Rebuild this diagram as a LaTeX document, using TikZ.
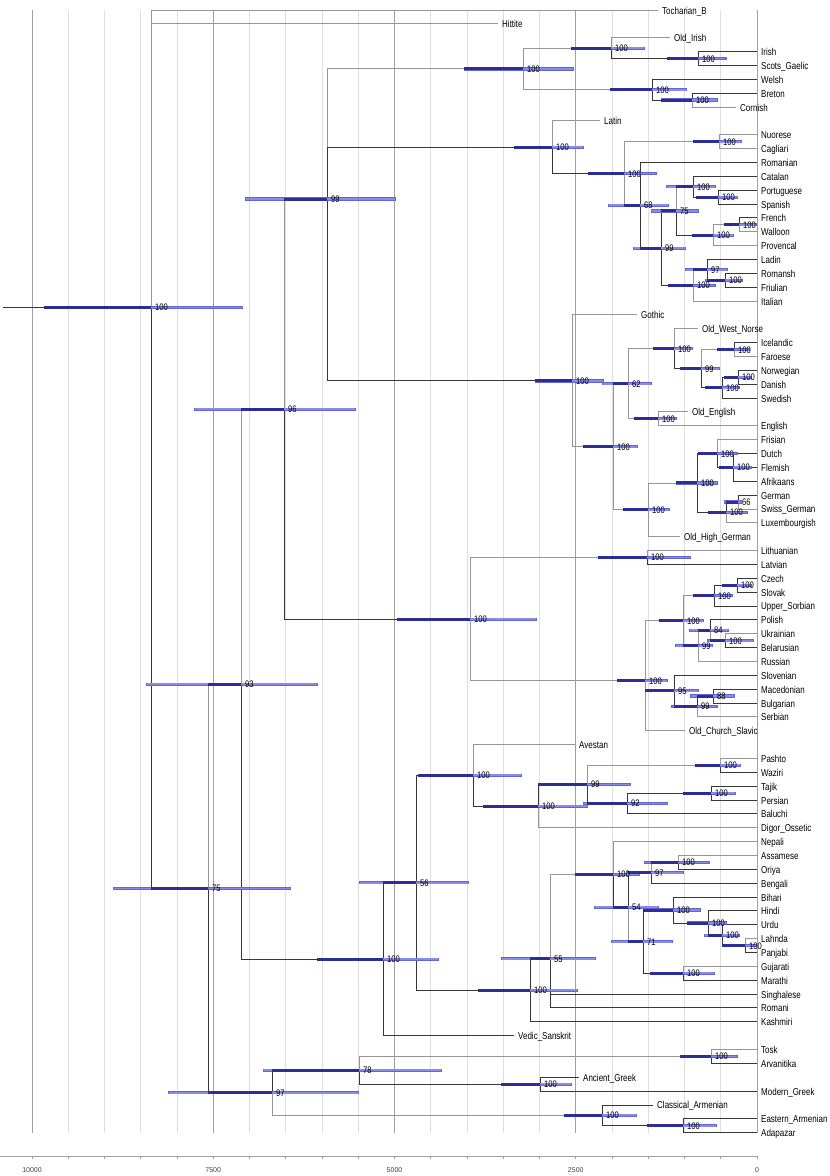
\documentclass[tikz,border=0pt]{standalone}
\usepackage{fontspec}
\setmainfont{Liberation Sans}
\newfontfamily\nar[FakeStretch=0.8]{Liberation Sans}
\definecolor{brg}{RGB}{150,150,150}
\definecolor{brk}{RGB}{55,55,55}
\definecolor{barO}{RGB}{100,102,205}
\definecolor{barL}{RGB}{135,140,235}
\definecolor{barD}{RGB}{45,45,150}
\definecolor{gridmin}{RGB}{222,222,222}
\definecolor{gridmaj}{RGB}{160,160,160}
\tikzset{
  edge/.style={line width=0.9pt},
  barouter/.style={line width=3.2pt, barO},
  barlight/.style={line width=1.8pt, barL},
  bardark/.style={line width=3pt, barD},
  nlab/.style={anchor=west, inner sep=0pt, xshift=4pt, font=\nar\fontsize{9.5}{9.5}\selectfont, text height=7pt, text depth=0pt},
  leaf/.style={anchor=west, inner sep=0pt, xshift=4pt, font=\nar\fontsize{10}{10}\selectfont, text height=8pt, text depth=0pt},
  axlab/.style={font=\fontsize{7}{7}\selectfont, text=black!75, inner sep=0pt},
}
\def\INodes{
n99/327/13.64/n96/245/396/284/99/g,
n96/284/28.8/n93/194/356/241/96/g,
n93/241/48.64/n75/146/318/208/93/g,
n75/208/63.38/root/113/291/151/75/k,
n97s/272/78.125/n75/168/359/208/97/k,
Celt/523/4.25/n99/464/574/464/100/g,
Goid/611/2.75/Celt/571/645/571/100/g,
IS/698/3.5/Goid/667/727/667/100/k,
Bryth/652/5.75/Celt/610/687/610/100/g,
BC/692/6.5/Bryth/661/718/661/100/k,
Ital/552/9.90/n99/514/584/514/100/k,
Rom/624/11.80/Ital/588/657/588/100/k,
Sard/719/9.5/Rom/693/742/693/100/g,
n68/640/14.09/Rom/608/669/624/68/g,
n99it/661/17.1875/n68/633/686/640/99/k,
n75it/676/14.5/n99it/651/699/661/75/k,
Iber/693/12.75/n75it/666/716/676/100/g,
PS/718/13.5/Iber/696/738/696/100/k,
Gallo/713/16.25/n75it/692/734/692/100/k,
FW/739/15.5/Gallo/724/757/724/100/g,
n100it/693/19.875/n99it/668/716/668/100/k,
n97it/707/18.75/n100it/685/728/693/97/g,
RF/725/19.5/n97it/705/743/707/100/k,
Germ/572/26.76/n99/535/604/535/100/k,
NWG/613/31.52/Germ/583/638/583/100/g,
n62/628/26.97/NWG/602/652/613/62/g,
North/674/24.44/n62/653/693/653/100/g,
n99g/701/25.875/North/680/720/680/99/k,
Ins/734/24.5/n99g/717/750/717/100/g,
NDS/722/27.25/n99g/705/740/705/100/k,
ND/738/26.5/NDS/724/752/724/100/k,
Anglo/658/29.5/n62/634/677/634/100/g,
n100wg/648/36.06/NWG/623/670/623/100/g,
WG/697/34.125/n100wg/676/718/676/100/g,
LowG/717/32/WG/698/738/698/100/k,
DFA/733/33/LowG/719/752/719/100/k,
HighG/726/36.25/WG/708/748/708/100/k,
n66/738/35.5/HighG/724/742/726/66/k,
BS/470/43.95/n96/397/537/397/100/k,
Baltic/647/39.5/BS/598/691/598/100/g,
Slavic/645/48.40/BS/617/668/617/100/g,
WE/683/44.06/Slavic/659/704/659/100/g,
West/714/42.25/WE/693/733/693/100/g,
CS/737/41.5/West/722/752/722/100/k,
n99e/698/45.875/WE/675/713/683/99/g,
n84/710/44.75/n99e/689/729/698/84/g,
UB/725/45.5/n84/707/754/710/100/g,
South/674/49.125/Slavic/645/699/645/95/k,
n99s/697/50.25/South/671/718/674/99/k,
n88/713/49.5/n99s/690/735/697/88/k,
n100v/383/68.49/n93/317/439/317/100/k,
n56/416/62.97/n100v/359/469/383/56/k,
Iran/473/55.22/n56/418/522/418/100/k,
IrTwo/538/57.44/Iran/483/588/483/100/k,
n99ir/587/55.875/IrTwo/538/631/538/99/k,
PW/720/54.5/n99ir/695/741/695/100/g,
n92/627/57.25/n99ir/583/668/587/92/k,
TP/711/56.5/n92/683/736/683/100/k,
n100k/530/70.73/n56/478/578/478/100/k,
n55/550/68.46/n100k/501/596/530/55/k,
Core/613/62.37/n55/575/640/575/100/g,
n54/628/64.73/Core/594/659/613/54/k,
n97i/651/62.25/n54/627/684/628/97/k,
AO/678/61.5/n97i/644/710/651/100/g,
n71/643/67.22/n54/611/673/628/71/g,
Hind/673/64.94/n71/643/701/643/100/k,
n708/708/65.875/Hind/687/727/687/100/k,
n722/722/66.75/n708/704/740/708/100/k,
LP/745/67.5/n722/722/757/722/100/k,
GM/683/69.5/n71/650/715/650/100/k,
n78/359/76.5/n97s/263/442/272/78/k,
Alb/711/75.5/n78/680/738/680/100/g,
Grk/540/77.5/n78/501/572/501/100/k,
Arm/602/79.75/n97s/564/637/564/100/g,
EA/683/80.5/Arm/647/717/647/100/k}
\def\Leaves{
0/658/root/g/Tocharian\_B,
1/498/root/g/Hittite,
2/670/Goid/g/Old\_Irish,
3/757/IS/k/Irish,
4/757/IS/k/Scots\_Gaelic,
5/757/Bryth/k/Welsh,
6/757/BC/k/Breton,
7/736/BC/g/Cornish,
8/600/Ital/g/Latin,
9/757/Sard/g/Nuorese,
10/757/Sard/g/Cagliari,
11/757/n68/k/Romanian,
12/757/Iber/k/Catalan,
13/757/PS/k/Portuguese,
14/757/PS/k/Spanish,
15/757/FW/k/French,
16/757/FW/g/Walloon,
17/757/Gallo/g/Provencal,
18/757/n97it/k/Ladin,
19/757/RF/k/Romansh,
20/757/RF/k/Friulian,
21/757/n100it/g/Italian,
22/637/Germ/g/Gothic,
23/698/North/g/Old\_West\_Norse,
24/757/Ins/k/Icelandic,
25/757/Ins/g/Faroese,
26/757/ND/k/Norwegian,
27/757/ND/k/Danish,
28/757/NDS/k/Swedish,
29/688/Anglo/g/Old\_English,
30/757/Anglo/g/English,
31/757/LowG/g/Frisian,
32/757/DFA/k/Dutch,
33/757/DFA/k/Flemish,
34/757/DFA/k/Afrikaans,
35/757/n66/k/German,
36/757/n66/g/Swiss\_German,
37/757/HighG/g/Luxembourgish,
38/680/n100wg/g/Old\_High\_German,
39/757/Baltic/g/Lithuanian,
40/757/Baltic/k/Latvian,
41/757/CS/k/Czech,
42/757/CS/k/Slovak,
43/757/West/k/Upper\_Sorbian,
44/757/n84/k/Polish,
45/757/UB/g/Ukrainian,
46/757/UB/k/Belarusian,
47/757/n99e/g/Russian,
48/757/South/k/Slovenian,
49/757/n88/k/Macedonian,
50/757/n88/k/Bulgarian,
51/757/n99s/g/Serbian,
52/685/Slavic/g/Old\_Church\_Slavic,
53/575/Iran/g/Avestan,
54/757/PW/g/Pashto,
55/757/PW/k/Waziri,
56/757/TP/k/Tajik,
57/757/TP/k/Persian,
58/757/n92/k/Baluchi,
59/757/IrTwo/g/Digor\_Ossetic,
60/757/Core/g/Nepali,
61/757/AO/g/Assamese,
62/757/AO/k/Oriya,
63/757/n97i/k/Bengali,
64/757/Hind/k/Bihari,
65/757/n708/k/Hindi,
66/757/n722/k/Urdu,
67/757/LP/g/Lahnda,
68/757/LP/k/Panjabi,
69/757/GM/g/Gujarati,
70/757/GM/k/Marathi,
71/757/n55/k/Singhalese,
72/757/n55/k/Romani,
73/757/n100k/k/Kashmiri,
74/514/n100v/k/Vedic\_Sanskrit,
75/757/Alb/g/Tosk,
76/757/Alb/k/Arvanitika,
77/579/Grk/k/Ancient\_Greek,
78/757/Grk/k/Modern\_Greek,
79/653/Arm/k/Classical\_Armenian,
80/757/EA/k/Eastern\_Armenian,
81/757/EA/k/Adapazar}
\begin{document}
\begin{tikzpicture}[x=1pt,y=-1pt]
\useasboundingbox (0,0) rectangle (830,1176);
\fill[white] (0,0) rectangle (830,1176);
% grid
\foreach \k in {0,...,20}{
  \pgfmathtruncatemacro{\mm}{mod(\k,5)}
  \ifnum\mm=0
    \draw[gridmaj, line width=0.8pt] ({757-36.25*\k},10) -- ({757-36.25*\k},1133);
  \else
    \draw[gridmin, line width=0.8pt] ({757-36.25*\k},10) -- ({757-36.25*\k},1133);
  \fi
  \draw[gridmaj, line width=0.8pt] ({757-36.25*\k},1156) -- ({757-36.25*\k},1159);
}
\draw[gridmaj, line width=1pt] (0,1156) -- (757,1156);
\foreach \v/\k in {10000/20,7500/15,5000/10,2500/5,0/0}{
  \node[axlab] (ax\k) at ({757-36.25*\k},1170) {\v};
}
% coordinates
\coordinate (root) at (151,{10+13.86*21.46});
\coordinate (stem) at (3,{10+13.86*21.46});
\foreach \nn/\xx/\rr/\pa/\bl/\br/\bd/\lb/\cl in \INodes{
  \coordinate (\nn) at (\xx,{10+13.86*\rr});
}
\foreach \ii/\tp/\pa/\cl/\tx in \Leaves{
  \coordinate (L\ii) at (\tp,{10+13.86*\ii});
}
% edges
\draw[edge,brk] (stem) -- (root);
\foreach \nn/\xx/\rr/\pa/\bl/\br/\bd/\lb/\cl in \INodes{
  \draw[edge,br\cl] (\pa) |- (\nn);
}
\foreach \ii/\tp/\pa/\cl/\tx in \Leaves{
  \draw[edge,br\cl] (\pa) |- (L\ii);
}
% bars
\draw[barouter] (44,{10+13.86*21.46}) -- (243,{10+13.86*21.46});
\draw[barlight] (44.8,{10+13.86*21.46}) -- (242.2,{10+13.86*21.46});
\draw[bardark] (44,{10+13.86*21.46}) -- (root);
\foreach \nn/\xx/\rr/\pa/\bl/\br/\bd/\lb/\cl in \INodes{
  \draw[barouter] (\bl,{10+13.86*\rr}) -- (\br,{10+13.86*\rr});
  \draw[barlight] ({\bl+0.8},{10+13.86*\rr}) -- ({\br-0.8},{10+13.86*\rr});
  \draw[bardark] (\bd,{10+13.86*\rr}) -- (\nn);
}
% labels
\node[nlab] (lab-root) at (root) {100};
\foreach \nn/\xx/\rr/\pa/\bl/\br/\bd/\lb/\cl in \INodes{
  \node[nlab] (lab-\nn) at (\nn) {\lb};
}
\foreach \ii/\tp/\pa/\cl/\tx in \Leaves{
  \node[leaf] (N\ii) at (L\ii) {\tx};
}
\end{tikzpicture}
\end{document}
